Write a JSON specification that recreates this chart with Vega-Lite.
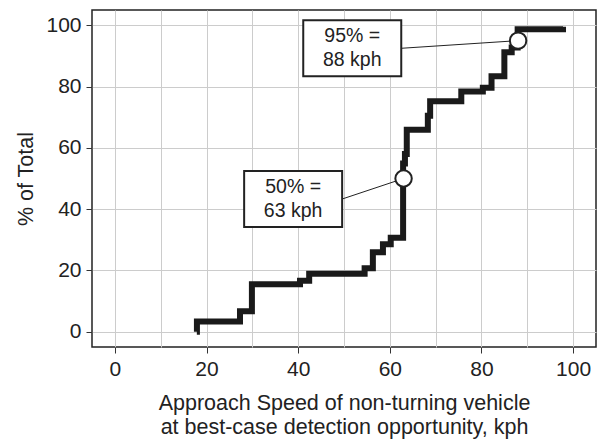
{
  "$schema": "https://vega.github.io/schema/vega-lite/v6.json",
  "width": 504,
  "height": 337,
  "autosize": {"type": "none"},
  "padding": {"left": 92, "top": 10, "right": 3, "bottom": 93},
  "background": "white",
  "config": {
    "font": "Liberation Sans",
    "view": {"stroke": "#222222", "strokeWidth": 1.5},
    "axis": {
      "domain": false,
      "grid": true,
      "gridColor": "#cccccc",
      "gridWidth": 1,
      "tickColor": "#333333",
      "tickSize": 6,
      "tickWidth": 1,
      "labelFont": "Liberation Sans",
      "labelFontSize": 21,
      "labelColor": "#222222",
      "titleFont": "Liberation Sans",
      "titleFontSize": 21.5,
      "titleFontWeight": "normal",
      "titleColor": "#222222"
    }
  },
  "datasets": {
    "ecdf": [
      {"speed": 17.88, "pct": 0},
      {"speed": 17.9, "pct": 3.3},
      {"speed": 27.3, "pct": 6.7},
      {"speed": 29.9, "pct": 15.5},
      {"speed": 40.4, "pct": 16.6},
      {"speed": 42.4, "pct": 18.9},
      {"speed": 54.5, "pct": 20.7},
      {"speed": 56.3, "pct": 25.9},
      {"speed": 58.5, "pct": 28.5},
      {"speed": 60.2, "pct": 30.7},
      {"speed": 62.9, "pct": 54.9},
      {"speed": 63.3, "pct": 58.0},
      {"speed": 63.7, "pct": 65.9},
      {"speed": 68.3, "pct": 70.5},
      {"speed": 68.8, "pct": 75.2},
      {"speed": 75.6, "pct": 78.4},
      {"speed": 80.3, "pct": 79.6},
      {"speed": 82.2, "pct": 83.4},
      {"speed": 85.0, "pct": 91.2},
      {"speed": 86.6, "pct": 92.8},
      {"speed": 87.9, "pct": 98.7},
      {"speed": 97.8, "pct": 99.5}
    ],
    "notes": [
      {"note": "95% =\n88 kph", "bx": 51.8, "by": 92.5, "px": 88, "py": 95},
      {"note": "50% =\n63 kph", "bx": 38.9, "by": 43.3, "px": 63, "py": 50}
    ]
  },
  "layer": [
    {
      "data": {"name": "ecdf"},
      "mark": {"type": "line", "interpolate": "step-after", "strokeWidth": 6, "color": "#1a1a1a", "strokeCap": "butt", "strokeJoin": "miter"},
      "encoding": {
        "x": {
          "field": "speed", "type": "quantitative",
          "scale": {"domain": [-5, 105], "nice": false, "zero": false},
          "axis": {
            "values": [0, 10, 20, 30, 40, 50, 60, 70, 80, 90, 100],
            "labelExpr": "datum.value % 20 === 0 ? datum.label : ''",
            "tickOpacity": {"condition": {"test": "datum.value % 20 === 0", "value": 1}, "value": 0},
            "labelPadding": 5,
            "title": ["Approach Speed of non-turning vehicle", "at best-case detection opportunity, kph"],
            "titleLineHeight": 24,
            "titlePadding": 13
          }
        },
        "y": {
          "field": "pct", "type": "quantitative",
          "scale": {"domain": [-5, 105], "nice": false, "zero": false},
          "axis": {
            "values": [0, 10, 20, 30, 40, 50, 60, 70, 80, 90, 100],
            "labelExpr": "datum.value % 20 === 0 ? datum.label : ''",
            "tickOpacity": {"condition": {"test": "datum.value % 20 === 0", "value": 1}, "value": 0},
            "labelPadding": 5,
            "title": "% of Total",
            "titlePadding": 8
          }
        }
      }
    },
    {
      "data": {"name": "notes"},
      "mark": {"type": "rule", "color": "#222222", "strokeWidth": 1, "xOffset": 49},
      "encoding": {
        "x": {"field": "bx", "type": "quantitative"},
        "y": {"field": "by", "type": "quantitative"},
        "x2": {"field": "px"},
        "y2": {"field": "py"}
      }
    },
    {
      "data": {"name": "notes"},
      "mark": {"type": "point", "shape": "M-1,-0.571L1,-0.571L1,0.571L-1,0.571Z", "size": 9604, "filled": true, "fill": "white", "stroke": "#222222", "strokeWidth": 2, "opacity": 1},
      "encoding": {
        "x": {"field": "bx", "type": "quantitative"},
        "y": {"field": "by", "type": "quantitative"}
      }
    },
    {
      "data": {"name": "notes"},
      "mark": {"type": "text", "lineBreak": "\n", "fontSize": 19.5, "lineHeight": 24, "dy": -12, "align": "center", "baseline": "middle", "color": "#222222", "font": "Liberation Sans"},
      "encoding": {
        "x": {"field": "bx", "type": "quantitative"},
        "y": {"field": "by", "type": "quantitative"},
        "text": {"field": "note", "type": "nominal"}
      }
    },
    {
      "data": {"name": "notes"},
      "mark": {"type": "point", "shape": "circle", "size": 270, "filled": true, "fill": "white", "stroke": "#222222", "strokeWidth": 2, "opacity": 1},
      "encoding": {
        "x": {"field": "px", "type": "quantitative"},
        "y": {"field": "py", "type": "quantitative"}
      }
    }
  ]
}
